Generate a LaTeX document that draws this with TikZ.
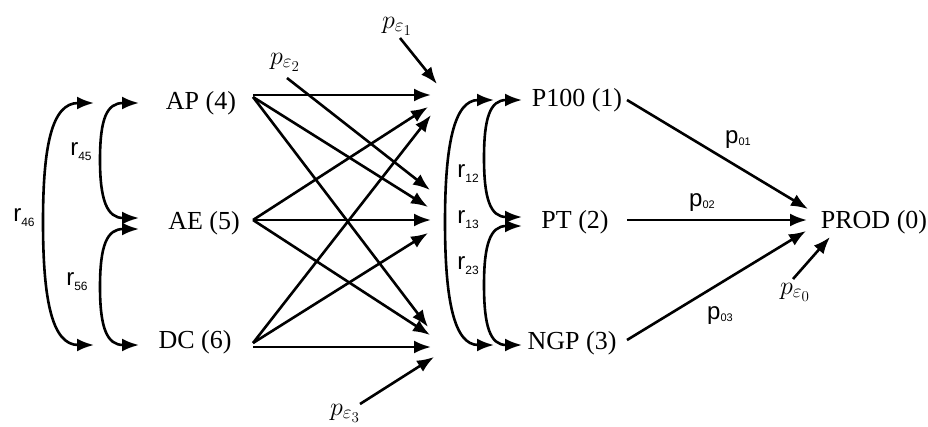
\documentclass[tikz,border=0pt]{standalone}
\usepackage{fix-cm}
\usepackage{fontspec}
\setmainfont{Liberation Serif}
\setsansfont{Liberation Sans}
\usetikzlibrary{arrows.meta}
\DeclareMathSizes{26}{26}{19}{15}
\newcommand{\rlab}[1]{{\sffamily\fontsize{24}{24}\selectfont r\raisebox{-5pt}{\fontsize{12}{12}\selectfont #1}}}
\newcommand{\plab}[1]{{\sffamily\fontsize{24}{24}\selectfont p\raisebox{-2pt}{\fontsize{11}{11}\selectfont #1}}}
\newcommand{\pelab}[1]{{\fontsize{26}{30}\selectfont $p_{\varepsilon_{#1}}$}}
\begin{document}
\begin{tikzpicture}[x=1pt,y=-1pt,
  tip/.tip={Latex[length=17pt,width=13pt]},
  arr/.style={line width=2.6pt,-tip},
  dbl/.style={line width=2.6pt,tip-tip},
  var/.style={font=\fontsize{26}{30}\selectfont, inner sep=0pt},
  lab/.style={inner sep=0pt}]
\useasboundingbox (0,0) rectangle (928,426);
% variable nodes
\node[var] (AP) at (201,103) {AP (4)};
\node[var] (AE) at (204,223) {AE (5)};
\node[var] (DC) at (195,342) {DC (6)};
\node[var] (P1) at (577,100) {P100 (1)};
\node[var] (PT) at (575,222) {PT (2)};
\node[var] (NG) at (572,343) {NGP (3)};
\node[var] (PR) at (874,222) {PROD (0)};
% outgoing points
\coordinate (apO) at (253,97);
\coordinate (apH) at (253,95);
\coordinate (aeO) at (253,220);
\coordinate (dcO) at (253,343);
\coordinate (dcH) at (253,347);
% target points
\coordinate (t1a) at (431,95);
\coordinate (t1b) at (428,107);
\coordinate (t1c) at (431,115);
\coordinate (t2a) at (428,207);
\coordinate (t2b) at (431,220);
\coordinate (t2c) at (428,233);
\coordinate (t3a) at (428,327);
\coordinate (t3b) at (430,335);
\coordinate (t3c) at (431,347);
% cross arrows
\draw[arr] (apH) -- (t1a);
\draw[arr] (apO) -- (t2a);
\draw[arr] (apO) -- (t3a);
\draw[arr] (aeO) -- (t1b);
\draw[arr] (aeO) -- (t2b);
\draw[arr] (aeO) -- (t3b);
\draw[arr] (dcO) -- (t1c);
\draw[arr] (dcO) -- (t2c);
\draw[arr] (dcH) -- (t3c);
% error terms
\node[lab] (e1) at (397,26) {\pelab{1}};
\node[lab] (e2) at (285,62) {\pelab{2}};
\node[lab] (e3) at (345,413) {\pelab{3}};
\node[lab] (e0) at (795,292) {\pelab{0}};
\coordinate (e1a) at (400,38);
\coordinate (e1t) at (437,84);
\coordinate (e2a) at (287,78);
\coordinate (e2t) at (430,190);
\coordinate (e3a) at (360,404);
\coordinate (e3t) at (434,357);
\coordinate (e0a) at (793,279);
\coordinate (e0t) at (830,237);
\draw[arr] (e1a) -- (e1t);
\draw[arr] (e2a) -- (e2t);
\draw[arr] (e3a) -- (e3t);
\draw[arr] (e0a) -- (e0t);
% right arrows
\coordinate (p1O) at (627,100);
\coordinate (ptO) at (627,220);
\coordinate (ngO) at (627,340);
\coordinate (pr1) at (808,209);
\coordinate (pr2) at (807,220);
\coordinate (pr3) at (806,231);
\draw[arr] (p1O) -- (pr1);
\draw[arr] (ptO) -- (pr2);
\draw[arr] (ngO) -- (pr3);
\node[lab] (l01) at (738,140) {\plab{01}};
\node[lab] (l02) at (702,203) {\plab{02}};
\node[lab] (l03) at (720,316) {\plab{03}};
% left correlation arcs
\coordinate (L1) at (94,103);
\coordinate (L2) at (94,345);
\coordinate (I1) at (139,103);
\coordinate (I2) at (139,218);
\coordinate (I3) at (139,229);
\coordinate (I4) at (139,345);
\draw[dbl] (L1) .. controls (52,103) and (43,145) .. (43,222) .. controls (43,300) and (52,345) .. (L2);
\draw[dbl] (I1) .. controls (107,103) and (100,118) .. (100,160) .. controls (100,200) and (107,218) .. (I2);
\draw[dbl] (I3) .. controls (107,229) and (100,245) .. (100,287) .. controls (100,328) and (107,345) .. (I4);
\node[lab] (r46) at (24,218) {\rlab{46}};
\node[lab] (r45) at (81,152) {\rlab{45}};
\node[lab] (r56) at (77,282) {\rlab{56}};
% right correlation arcs
\coordinate (R1) at (494,100);
\coordinate (R2) at (494,345);
\coordinate (J1) at (522,100);
\coordinate (J2) at (522,217);
\coordinate (J3) at (522,226);
\coordinate (J4) at (522,345);
\draw[dbl] (R1) .. controls (454,100) and (445,145) .. (445,222) .. controls (445,300) and (454,345) .. (R2);
\draw[dbl] (J1) .. controls (490,100) and (484,118) .. (484,158) .. controls (484,198) and (490,217) .. (J2);
\draw[dbl] (J3) .. controls (490,226) and (484,245) .. (484,285) .. controls (484,326) and (490,345) .. (J4);
\node[lab] (r12) at (468,174) {\rlab{12}};
\node[lab] (r13) at (468,220) {\rlab{13}};
\node[lab] (r23) at (468,266) {\rlab{23}};
\end{tikzpicture}
\end{document}
